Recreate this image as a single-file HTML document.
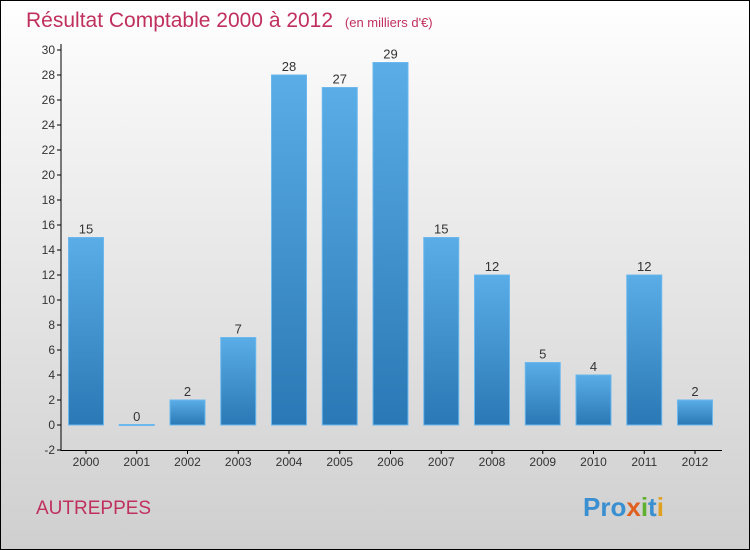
<!DOCTYPE html>
<html><head><meta charset="utf-8"><style>
html,body{margin:0;padding:0}
body{width:750px;height:550px;overflow:hidden;font-family:"Liberation Sans",sans-serif}
#wrap{position:absolute;left:0;top:0;width:748px;height:548px;border:1px solid #000;background:linear-gradient(#ffffff,#f4f4f4 20%,#cfcfcf)}
</style></head><body>
<div id="wrap">
<svg id="svg" width="750" height="550" style="position:absolute;left:-1px;top:-1px">
<defs><linearGradient id="bg" x1="0" y1="0" x2="0" y2="1"><stop offset="0" stop-color="#5aade6"/><stop offset="1" stop-color="#2a78b5"/></linearGradient></defs>
<text x="26" y="27" font-size="21" fill="#c0305e">Résultat Comptable 2000 à 2012 <tspan font-size="13" dx="6">(en milliers d'€)</tspan></text>
<text x="36" y="514" font-size="19" fill="#c0305e">AUTREPPES</text>
<text x="583" y="516" font-size="26" font-weight="bold" fill="#3a8fd0">Pro<tspan fill="#e06020">x</tspan><tspan fill="#60b030">i</tspan><tspan fill="#3a8fd0">t</tspan><tspan fill="#e0a020">i</tspan></text>
<g id="g"></g>
</svg></div>
<script>
const categories=["2000","2001","2002","2003","2004","2005","2006","2007","2008","2009","2010","2011","2012"];
const values=[15,0,2,7,28,27,29,15,12,5,4,12,2];
const yTicks=[-2,0,2,4,6,8,10,12,14,16,18,20,22,24,26,28,30];
const NS="http://www.w3.org/2000/svg",g=document.getElementById('g');
const y=v=>425-v*12.5, x=i=>86+i*50.75;
function mk(t,a,txt){const e=document.createElementNS(NS,t);for(const k in a)e.setAttribute(k,a[k]);if(txt!==undefined)e.textContent=txt;g.appendChild(e);return e;}
let e=mk('line',{x1:61,y1:44,x2:61,y2:451,stroke:'#000'});

e=mk('line',{x1:61,y1:450.5,x2:722,y2:450.5,stroke:'#000'});

yTicks.forEach(v=>{
 const t=mk('line',{x1:57,y1:y(v),x2:61,y2:y(v),stroke:'#000'});
 
 const l=mk('text',{x:55,y:y(v)+4,'font-size':12,'text-anchor':'end',fill:'#333'},v);
 
});
categories.forEach((c,i)=>{
 const cx=x(i),v=values[i];
 const t=mk('line',{x1:cx,y1:450,x2:cx,y2:454,stroke:'#000'});
 
 const l=mk('text',{x:cx,y:466,'font-size':12,'text-anchor':'middle',fill:'#333'},c);
 
 const top=y(Math.max(v,0)),h=Math.max(Math.abs(y(v)-y(0)),1);
 const b=mk('rect',{x:cx-17.5,y:v>0?top:y(0)-0.5,width:35,height:h,fill:'url(#bg)',stroke:'#6bb8ee','stroke-width':1});
 
 const vl=mk('text',{x:cx,y:top-4,'font-size':13,'text-anchor':'middle',fill:'#333'},v);
 
});
</script>
</body></html>
